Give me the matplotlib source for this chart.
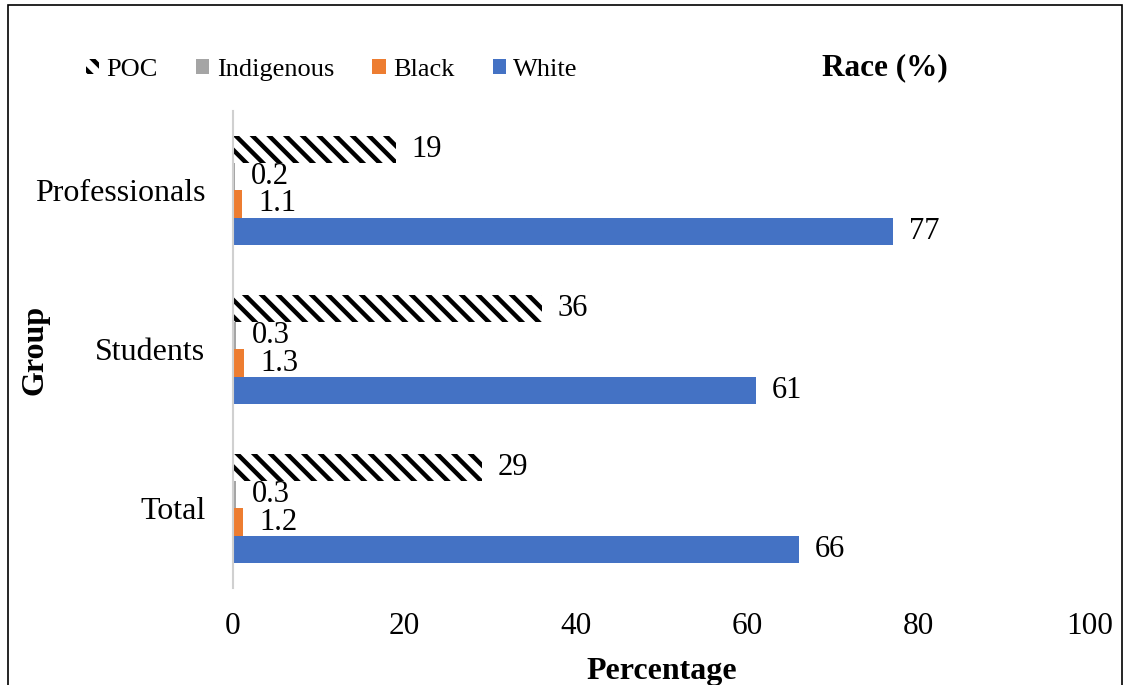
import matplotlib
matplotlib.use("Agg")
import matplotlib.pyplot as plt
from matplotlib.patches import Rectangle, Patch
import numpy as np

groups = ["Total", "Students", "Professionals"]
series_names = ["White", "Black", "Indigenous", "POC"]
white = [66, 61, 77]
black = [1.2, 1.3, 1.1]
indigenous = [0.3, 0.3, 0.2]
poc = [29, 36, 19]
labels_fmt = ["{:.0f}", "{:.1f}", "{:.1f}", "{:.0f}"]

plt.rcParams['font.family'] = ['Liberation Serif', 'DejaVu Serif']
plt.rcParams['hatch.linewidth'] = 3.2

fig = plt.figure(figsize=(11.28, 6.85), dpi=100)
ax = fig.add_axes([0.2066, 0.1416, 0.7597, 0.6964])

y = np.arange(len(groups))
h = 0.17
data = [white, black, indigenous, poc]
colors = ["#4472C4", "#ED7D31", "#A5A5A5", "white"]
for i, (name, vals, col, fmt) in enumerate(zip(series_names, data, colors, labels_fmt)):
    pos = y + (i - 1.5) * h
    if name == "POC":
        bars = ax.barh(pos, vals, height=h, color="white", edgecolor="black",
                       linewidth=0, hatch="\\\\")
    else:
        bars = ax.barh(pos, vals, height=h, color=col, linewidth=0)
    for b, v in zip(bars, vals):
        ax.annotate(fmt.format(v), (b.get_width(), b.get_y() + b.get_height() / 2),
                    xytext=(11.5, 0), textcoords="offset points",
                    ha="left", va="center", fontsize=22)

ax.set_xlim(0, 100)
ax.set_ylim(-0.5, 2.5)
ax.set_yticks(y)
ax.set_yticklabels(groups, fontsize=23)
ax.set_xticks([0, 20, 40, 60, 80, 100])
ax.set_xticklabels(["0", "20", "40", "60", "80", "100"], fontsize=22.5)
ax.tick_params(axis='both', length=0)
ax.tick_params(axis='x', pad=17)
ax.tick_params(axis='y', pad=20)
for s in ["top", "right", "bottom"]:
    ax.spines[s].set_visible(False)
ax.spines["left"].set_color("#D0D0D0")
ax.spines["left"].set_linewidth(1.5)

ax.set_xlabel("Percentage", fontsize=23, fontweight="bold", labelpad=12)
fig.text(35 / 1128, 1 - 350 / 685, "Group", rotation=90, fontsize=23,
         fontweight="bold", ha="center", va="center")
fig.text(885 / 1128, 1 - 68 / 685, "Race (%)", fontsize=22.5, fontweight="bold",
         ha="center", va="center")

leg_handles = [
    Patch(facecolor="white", edgecolor="black", linewidth=0, hatch="\\\\"),
    Patch(facecolor="#A5A5A5", linewidth=0),
    Patch(facecolor="#ED7D31", linewidth=0),
    Patch(facecolor="#4472C4", linewidth=0),
]
fig.legend(leg_handles, ["POC", "Indigenous", "Black", "White"], ncol=4,
           loc="center left", bbox_to_anchor=(86 / 1128, 1 - 70 / 685),
           frameon=False, fontsize=19, handlelength=0.5, handleheight=0.5,
           handletextpad=0.28, columnspacing=1.45, borderpad=0, borderaxespad=0)

fig.patches.append(Rectangle((8 / 1128, -0.05), (1122 - 8) / 1128, 1 - 5 / 685 + 0.05,
                             transform=fig.transFigure, fill=False,
                             edgecolor="black", linewidth=1.2))

fig.savefig("out.png", dpi=100)
